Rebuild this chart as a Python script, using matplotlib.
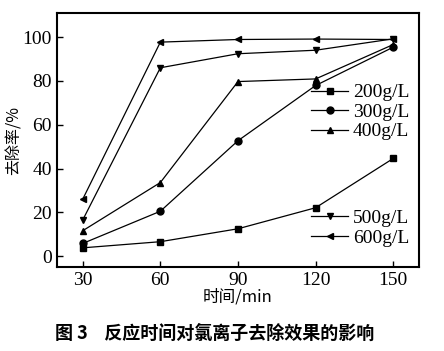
import numpy as np
import matplotlib.pyplot as plt

plt.rcParams['font.family'] = ['Liberation Serif', 'Noto Sans CJK SC']

t = [30, 60, 90, 120, 150]
r200 = [3.8, 6.6, 12.5, 22.1, 44.6]
r300 = [5.8, 20.5, 52.7, 77.9, 95.4]
r400 = [11.6, 33.6, 79.7, 80.9, 96.6]
r500 = [16.5, 86.0, 92.4, 94.0, 99.2]
r600 = [26.0, 97.7, 98.9, 99.1, 98.9]

fig = plt.figure(figsize=(4.44, 3.51), dpi=100)
ax = fig.add_axes([0.128, 0.239, 0.816, 0.724])

kw = dict(color='black', lw=0.9, ms=5)
l1, = ax.plot(t, r200, marker='s', label='200g/L', **kw)
l2, = ax.plot(t, r300, marker='o', label='300g/L', **kw)
l3, = ax.plot(t, r400, marker='^', label='400g/L', **kw)
l4, = ax.plot(t, r500, marker='v', label='500g/L', **kw)
l5, = ax.plot(t, r600, marker='<', label='600g/L', **kw)

ax.set_xlim(20, 160)
ax.set_ylim(-5, 111)
ax.set_xticks(t)
ax.set_yticks([0, 20, 40, 60, 80, 100])
ax.tick_params(direction='in', labelsize=14, length=4, width=1)
for s in ax.spines.values():
    s.set_linewidth(1.5)

ax.set_xlabel('时间/min', fontsize=12, family=['Noto Sans CJK SC'], labelpad=0)
ax.set_ylabel('去除率/%', fontsize=11.5, family=['Noto Sans CJK SC'], labelpad=0)

leg1 = ax.legend(handles=[l1, l2, l3], loc='upper right', bbox_to_anchor=(1.0, 0.76),
                 frameon=False, fontsize=14, handlelength=1.9, handletextpad=0.25,
                 labelspacing=0.1, borderaxespad=0.1)
ax.add_artist(leg1)
ax.legend(handles=[l4, l5], loc='upper right', bbox_to_anchor=(1.0, 0.265),
          frameon=False, fontsize=14, handlelength=1.9, handletextpad=0.25,
          labelspacing=0.1, borderaxespad=0.1)

fig.text(0.483, 0.035, '图 3    反应时间对氯离子去除效果的影响', ha='center',
         fontsize=13, fontweight='bold', family=['Noto Sans CJK SC'])

fig.savefig('out.png', dpi=100)
